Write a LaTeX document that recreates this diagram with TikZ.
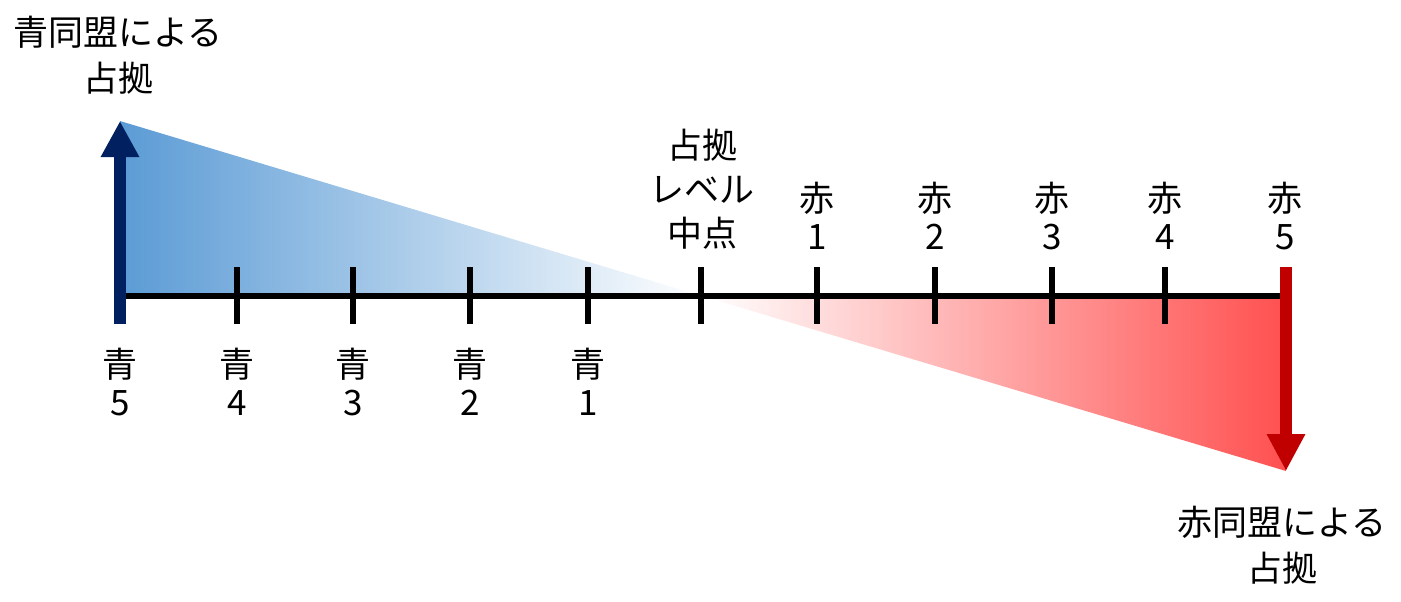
\documentclass[tikz,border=0pt]{standalone}
\usepackage{fontspec}
\setmainfont{Noto Sans CJK JP}
\usetikzlibrary{arrows.meta}
\definecolor{navy}{HTML}{002060}
\definecolor{darkred}{HTML}{C00000}
\definecolor{fillblue}{HTML}{5B9BD5}
\definecolor{fillred}{HTML}{FF5050}
\tikzset{
  axisline/.style={line width=3pt, black},
  tickline/.style={line width=3pt, black},
  bluearrow/.style={line width=6pt, navy, -{Triangle[width=18pt,length=18pt]}},
  redarrow/.style={line width=6pt, darkred, -{Triangle[width=18pt,length=18.5pt]}},
  lbl/.style={inner sep=0pt, align=center, font=\fontsize{17.5}{19}\selectfont},
  biglbl/.style={inner sep=0pt, align=center, font=\fontsize{17.5}{23}\selectfont},
  midlbl/.style={inner sep=0pt, align=center, font=\fontsize{17.5}{22}\selectfont},
}
\begin{document}
\begin{tikzpicture}[x=0.5pt,y=-0.5pt]
\useasboundingbox (0,0) rectangle (1401,601);
% gradient triangles
\shade[left color=fillblue, right color=white] (120,121) -- (702,296) -- (120,296) -- cycle;
\shade[left color=white, right color=fillred] (702,296) -- (1280,296) -- (1286,471) -- cycle;
% axis
\coordinate (axL) at (121,296);
\coordinate (axR) at (1281,296);
\draw[axisline] (axL) -- (axR);
% ticks
\foreach \x/\n in {237/b4,353/b3,470/b2,588/b1,701/m,817/r1,935/r2,1052/r3,1165/r4}{
  \coordinate (t\n top) at (\x,267);
  \coordinate (t\n bot) at (\x,324);
  \draw[tickline] (t\n top) -- (t\n bot);
}
% arrows
\coordinate (bstart) at (120,324);
\coordinate (bend) at (120,121);
\draw[bluearrow] (bstart) -- (bend);
\coordinate (rstart) at (1286,267);
\coordinate (rend) at (1286,471);
\draw[redarrow] (rstart) -- (rend);
% labels
\node[biglbl] (blueocc) at (118,55) {青同盟による\\占拠};
\node[biglbl] (redocc) at (1282,545) {赤同盟による\\占拠};
\node[midlbl] (mid) at (702,189) {占拠\\レベル\\中点};
\foreach \x/\k in {817/1,935/2,1052/3,1165/4,1285/5}{
  \node[lbl] (r\k) at (\x,216) {赤\\\k};
}
\foreach \x/\k in {120/5,237/4,353/3,470/2,588/1}{
  \node[lbl] (b\k) at (\x,382) {青\\\k};
}
\end{tikzpicture}
\end{document}
